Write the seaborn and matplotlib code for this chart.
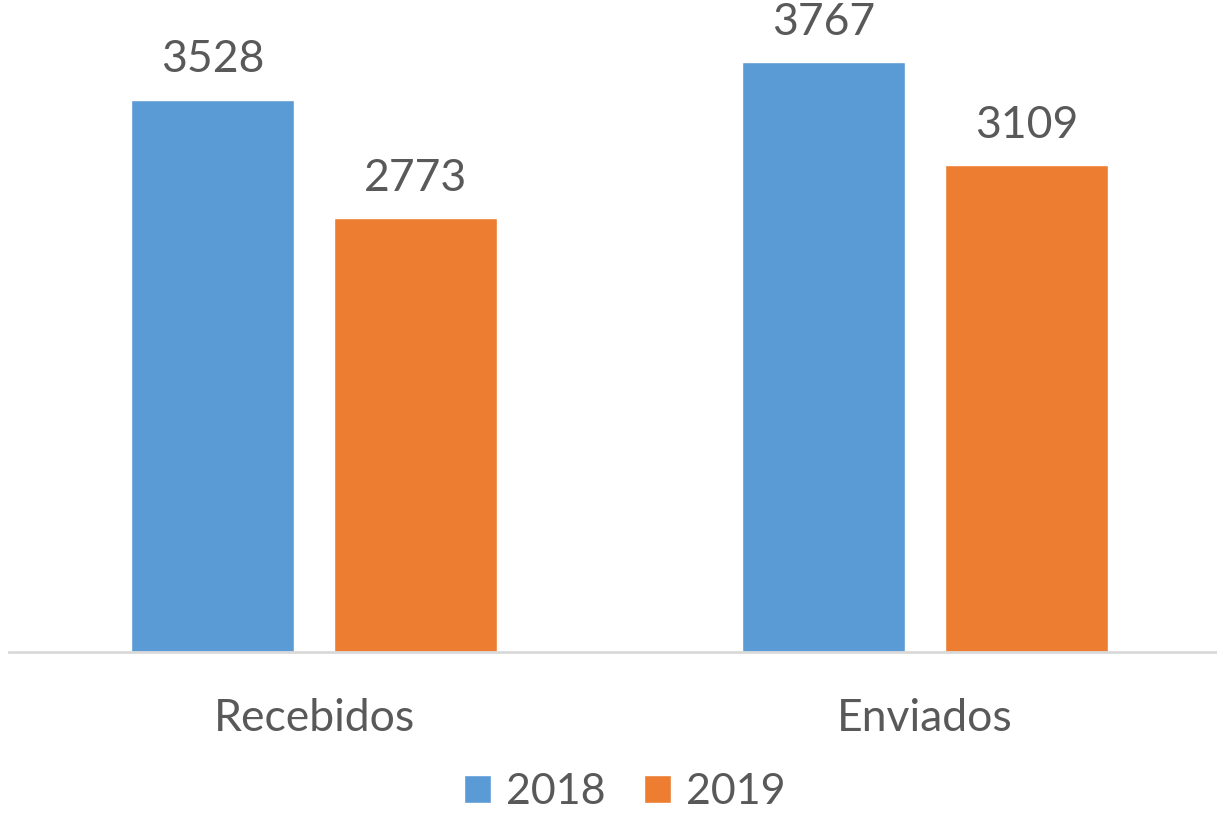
import matplotlib
matplotlib.use("Agg")
import matplotlib.pyplot as plt
import seaborn as sns
import pandas as pd

categorias = ["Recebidos", "Enviados"]
anos = ["2018", "2019"]
valores_2018 = [3528, 3767]
valores_2019 = [2773, 3109]
cores = ["#5B9BD5", "#ED7D31"]

df = pd.DataFrame({
    "categoria": categorias * 2,
    "ano": [anos[0]] * 2 + [anos[1]] * 2,
    "valor": valores_2018 + valores_2019,
})

sns.set_style("white")
plt.rcParams["font.family"] = ["Lato", "DejaVu Sans"]
cinza = "#595959"

fig = plt.figure(figsize=(12.17, 8.14), dpi=100)
ax = fig.add_axes([8.5 / 1217, 162 / 814, 1222 / 1217, 652 / 814])

sns.barplot(data=df, x="categoria", y="valor", hue="ano", palette=cores,
            width=0.665, gap=0.2, saturation=1, ax=ax, legend=True)

# rótulos de valor acima das barras
for cont in ax.containers:
    ax.bar_label(cont, padding=14, fontsize=32, color=cinza)

ax.set_xlim(-0.5, 1.5)
ax.set_ylim(0, 4166)
ax.set_xlabel("")
ax.set_ylabel("")
ax.set_yticks([])
ax.tick_params(axis="x", length=0, labelsize=32, labelcolor=cinza, pad=33)
for s in ["top", "right", "left"]:
    ax.spines[s].set_visible(False)
ax.spines["bottom"].set_color("#D9D9D9")
ax.spines["bottom"].set_linewidth(2)

h, l = ax.get_legend_handles_labels()
ax.legend(h, l, loc="center", bbox_to_anchor=(625 / 1217, 1 - 792 / 814),
          bbox_transform=fig.transFigure, ncol=2, frameon=False,
          fontsize=31, labelcolor=cinza, handlelength=0.62, handleheight=0.62,
          handletextpad=0.35, columnspacing=0.9, borderpad=0)

fig.savefig("out.png", dpi=100)
